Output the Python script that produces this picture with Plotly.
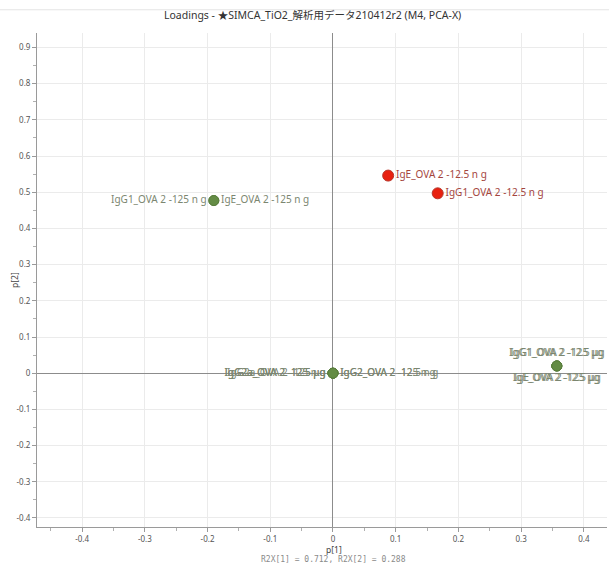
import plotly.graph_objects as go

# Loadings p[1], p[2] for each variable (several variables share a position)
variables = [
    "IgG1_OVA 2 -125 n g", "IgE_OVA 2 -125 n g",
    "IgE_OVA 2 -12.5 n g", "IgG1_OVA 2 -12.5 n g",
    "IgG2a_OVA 2 -125 μg", "IgG2a_OVA 2 -12.5 μg", "IgG2a_OVA 2 -125 n g",
    "IgG2_OVA 2 -125 n g", "IgG2_OVA 2 -12.5 n g",
    "IgG1_OVA 2 -125 μg", "IgG1_OVA 2 -12.5 μg",
    "IgE_OVA 2 -125 μg", "IgE_OVA 2 -12.5 μg",
]
p1 = [-0.190, -0.190, 0.088, 0.167, 0.0, 0.0, 0.0, 0.0, 0.0,
      0.357, 0.357, 0.357, 0.357]
p2 = [0.477, 0.477, 0.546, 0.497, 0.0, 0.0, 0.0, 0.0, 0.0,
      0.020, 0.020, 0.020, 0.020]
label_side = ["middle left", "middle right", "middle right", "middle right",
              "middle left", "middle left", "middle left",
              "middle right", "middle right",
              "top center", "top center", "bottom center", "bottom center"]
group = ["g", "g", "r", "r", "g", "g", "g", "g", "g", "g", "g", "g", "g"]

x_ticks = [-0.4, -0.3, -0.2, -0.1, 0, 0.1, 0.2, 0.3, 0.4]
y_ticks = [-0.4, -0.3, -0.2, -0.1, 0, 0.1, 0.2, 0.3, 0.4, 0.5, 0.6, 0.7, 0.8, 0.9]

title_text = "Loadings - ★SIMCA_TiO2_解析用データ210412r2 (M4, PCA-X)"
r2x_text = "R2X[1] = 0.712, R2X[2] = 0.288"

style = {
    "g": dict(fill="#648c45", line="#5a7f3d", size=10, text="#7b8670"),
    "r": dict(fill="#e8200f", line="#b8352a", size=11, text="#a4453d"),
}

fig = go.Figure()
for i, name in enumerate(variables):
    s = style[group[i]]
    fig.add_trace(go.Scatter(
        x=[p1[i]], y=[p2[i]], mode="markers+text",
        text=[name], textposition=label_side[i],
        textfont=dict(family="Noto Sans, Open Sans, sans-serif", size=10, color=s["text"]),
        marker=dict(size=s["size"], color=s["fill"], line=dict(color=s["line"], width=1)),
        showlegend=False, cliponaxis=False,
    ))

axis_common = dict(
    showgrid=True, gridcolor="#ebebeb", gridwidth=1,
    zeroline=True, zerolinecolor="#8c8c8c", zerolinewidth=1,
    showline=True, linecolor="#9a9a9a", linewidth=1,
    ticks="outside", ticklen=4, tickcolor="#9a9a9a",
    tickfont=dict(family="Noto Sans, sans-serif", size=8, color="#555555"),
    minor=dict(ticks="outside", ticklen=3, tickcolor="#b0b0b0", dtick=0.05, showgrid=False),
)

fig.update_layout(
    width=609, height=567,
    margin=dict(l=37, r=2, t=33, b=40),
    paper_bgcolor="white", plot_bgcolor="white",
    xaxis=dict(range=[-0.472, 0.437], tickvals=x_ticks,
               ticktext=[f"{v:g}" for v in x_ticks], **axis_common),
    yaxis=dict(range=[-0.425, 0.94], tickvals=y_ticks,
               ticktext=[f"{v:g}" for v in y_ticks], **axis_common),
    shapes=[dict(type="line", xref="paper", yref="paper", x0=-0.07, x1=1.01,
                 y0=1.047, y1=1.047, line=dict(color="#e4e4e4", width=1))],
    annotations=[
        dict(text=title_text, xref="paper", yref="paper", x=0.483, y=1.0,
             yshift=18, showarrow=False, xanchor="center", yanchor="middle",
             font=dict(family="Noto Sans, Noto Sans CJK JP, sans-serif", size=10.5, color="#333333")),
        dict(text="p[1]", xref="paper", yref="paper", x=0.521, y=0, yshift=-22,
             showarrow=False, xanchor="center", yanchor="middle",
             font=dict(family="Noto Sans, sans-serif", size=8.5, color="#444444")),
        dict(text=r2x_text, xref="paper", yref="paper", x=0.521, y=0, yshift=-32,
             showarrow=False, xanchor="center", yanchor="middle",
             font=dict(family="DejaVu Sans Mono, monospace", size=8, color="#8a8a8a")),
        dict(text="p[2]", xref="paper", yref="paper", x=0, xshift=-23, y=0.5,
             showarrow=False, textangle=-90, xanchor="center", yanchor="middle",
             font=dict(family="Noto Sans, sans-serif", size=8.5, color="#444444")),
    ],
)

fig.write_html("out.html")
